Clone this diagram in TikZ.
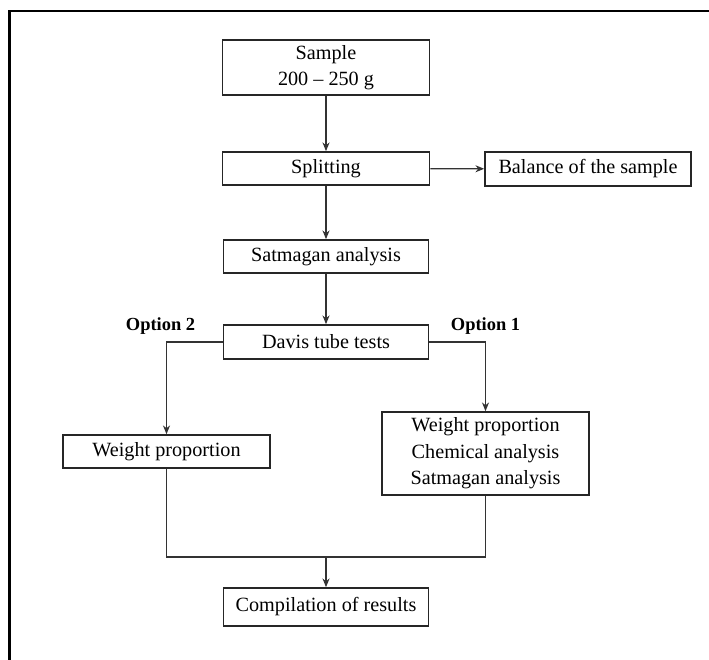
\documentclass[tikz,border=0pt]{standalone}
\usepackage{fontspec}
\setmainfont{Liberation Serif}
\usetikzlibrary{arrows.meta,calc}
\begin{document}
\begin{tikzpicture}[
  stage/.style={draw=black!85, line width=0.9pt, align=center, minimum width=4.14cm,
    minimum height=0.66cm, inner sep=2pt, font=\fontsize{11.5}{15}\selectfont},
  flow/.style={draw=black!80, line width=0.7pt, -{Stealth[length=5pt,width=4pt]}},
  link/.style={draw=black!80, line width=0.7pt},
  tag/.style={font=\fontsize{10.5}{12}\selectfont\bfseries, inner sep=1pt}
]
\useasboundingbox (0,0) rectangle (14.18,-13.2);
\begin{scope}
\clip (0,0) rectangle (14.18,-13.2);
\draw[line width=1.3pt] (0.19,-0.22) rectangle (15,-14);
\end{scope}
\node[stage, minimum height=1.1cm] (sample) at (6.52,-1.35) {Sample\\200 -- 250 g};
\node[stage] (split) at (6.52,-3.37) {Splitting};
\node[stage, minimum width=4.12cm, minimum height=0.68cm] (balance) at (11.76,-3.38) {Balance of the sample};
\node[stage, minimum width=4.1cm] (satmagan) at (6.52,-5.13) {Satmagan analysis};
\node[stage, minimum width=4.1cm, minimum height=0.68cm] (davis) at (6.52,-6.84) {Davis tube tests};
\node[stage] (weight) at (3.33,-9.03) {Weight proportion};
\node[stage, minimum height=1.66cm] (full) at (9.71,-9.07) {Weight proportion\\Chemical analysis\\Satmagan analysis};
\node[stage, minimum width=4.1cm, minimum height=0.76cm] (results) at (6.52,-12.14) {Compilation of results};
% main line
\draw[flow] (sample) -- (split);
\draw[flow] (split) -- (balance);
\draw[flow] (split) -- (satmagan);
\draw[flow] (satmagan) -- (davis);
% two options
\coordinate (opt2) at (weight.north |- davis.west);
\coordinate (opt1) at (full.north |- davis.east);
\draw[flow] (davis.west) -- (opt2) -- (weight.north);
\draw[flow] (davis.east) -- (opt1) -- (full.north);
\node[tag, anchor=south] at ($(opt2)+(-0.12,0.1)$) {Option 2};
\node[tag, anchor=south] at ($(opt1)+(0,0.1)$) {Option 1};
% merge
\coordinate (merge) at (results.north |- 0,-11.14);
\draw[link] (weight.south) |- (merge) -| (full.south);
\draw[flow] (merge) -- (results);
\end{tikzpicture}
\end{document}
